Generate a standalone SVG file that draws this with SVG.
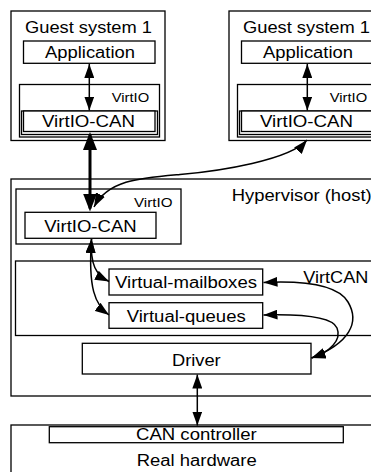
<svg xmlns="http://www.w3.org/2000/svg" width="371" height="472" viewBox="0 0 371 472">
  <style>
    .box { fill: #fff; stroke: #000; stroke-width: 1.3; }
    .lbl { font-family: "Liberation Sans", Arial, sans-serif; font-size: 16px; fill: #000; }
    .sm { font-family: "Liberation Sans", Arial, sans-serif; font-size: 13px; fill: #000; }
    .link { fill: none; stroke: #000; stroke-width: 1.5; marker-start: url(#ah); marker-end: url(#ah); }
    .bus { fill: none; stroke: #000; stroke-width: 3; marker-start: url(#ahb); marker-end: url(#ahb); }
  </style>
  <defs>
    <marker id="ah" viewBox="0 0 14 10" refX="14" refY="5" markerWidth="14" markerHeight="10" markerUnits="userSpaceOnUse" orient="auto-start-reverse">
      <path d="M0,0 L14,5 L0,10 z" fill="#000"/>
    </marker>
    <marker id="ahb" viewBox="0 0 18 14" refX="15" refY="7" markerWidth="18" markerHeight="14" markerUnits="userSpaceOnUse" orient="auto-start-reverse">
      <path d="M0,0 L18,7 L0,14 z" fill="#000"/>
    </marker>
    <!-- guest system: outer frame, application, VirtIO front end -->
    <g id="guest-tpl">
      <rect class="box" x="11" y="11" width="154" height="129.5"/>
      <text class="lbl" x="25" y="33.3" textLength="127" lengthAdjust="spacingAndGlyphs">Guest system 1</text>
      <rect class="box" x="23.5" y="41" width="131.5" height="22.3"/>
      <text class="lbl" x="45" y="58.3" textLength="90" lengthAdjust="spacingAndGlyphs">Application</text>
      <rect class="box" x="19.5" y="84.5" width="140" height="52.5"/>
      <text class="sm" x="111.7" y="101.7" textLength="37.5" lengthAdjust="spacingAndGlyphs">VirtIO</text>
      <rect class="box" x="21.5" y="111" width="136" height="23.5"/>
      <rect class="box" x="23.5" y="111" width="131.5" height="20.5"/>
      <text class="lbl" x="42" y="127" textLength="93" lengthAdjust="spacingAndGlyphs">VirtIO-CAN</text>
    </g>
  </defs>
  <rect width="371" height="472" fill="#fff"/>

  <use id="guest-1" href="#guest-tpl"/>
  <use id="guest-2" href="#guest-tpl" transform="translate(218,0)"/>

  <g id="hypervisor">
    <rect class="box" x="11" y="179" width="375" height="217"/>
    <text class="lbl" x="231.7" y="200.7" textLength="140" lengthAdjust="spacingAndGlyphs">Hypervisor (host)</text>
  </g>

  <g id="host-virtio">
    <rect class="box" x="16" y="189" width="165" height="55"/>
    <text class="sm" x="134" y="206.7" textLength="38.5" lengthAdjust="spacingAndGlyphs">VirtIO</text>
  </g>
  <g id="host-virtio-can">
    <rect class="box" x="25" y="212.3" width="131" height="26"/>
    <text class="lbl" x="44.3" y="232.3" textLength="92.4" lengthAdjust="spacingAndGlyphs">VirtIO-CAN</text>
  </g>

  <g id="virtcan">
    <rect class="box" x="15.5" y="261" width="370" height="74.5"/>
    <text class="lbl" x="303.3" y="282.5" textLength="65" lengthAdjust="spacingAndGlyphs">VirtCAN</text>
  </g>
  <g id="mailboxes">
    <rect class="box" x="109" y="269" width="153.7" height="26"/>
    <text class="lbl" x="115" y="288.3" textLength="142" lengthAdjust="spacingAndGlyphs">Virtual-mailboxes</text>
  </g>
  <g id="queues">
    <rect class="box" x="109" y="302.7" width="153.7" height="25.6"/>
    <text class="lbl" x="126.7" y="321.7" textLength="119" lengthAdjust="spacingAndGlyphs">Virtual-queues</text>
  </g>
  <g id="driver">
    <rect class="box" x="82.3" y="343.3" width="228.7" height="30.7"/>
    <text class="lbl" x="172" y="365.7" textLength="48.7" lengthAdjust="spacingAndGlyphs">Driver</text>
  </g>

  <g id="hardware">
    <rect class="box" x="11" y="425" width="375" height="60"/>
    <text class="lbl" x="136.7" y="465.7" textLength="120" lengthAdjust="spacingAndGlyphs">Real hardware</text>
  </g>
  <g id="can-controller">
    <rect class="box" x="49.3" y="426.7" width="294" height="16"/>
    <text class="lbl" x="136" y="440" textLength="120.7" lengthAdjust="spacingAndGlyphs">CAN controller</text>
  </g>

  <g id="connectors">
    <path class="link" d="M89.3,64 L89.3,110.5"/>
    <path class="link" d="M307.3,64 L307.3,110.5"/>
    <path class="bus" d="M90,135 L90,208.5"/>
    <path class="link" d="M94,207 C108,180 140,178 180,174.5 S290,160 307,140"/>
    <path class="link" d="M91.5,239 C90,265 96,275 109,281.5"/>
    <path class="link" d="M91.5,239 C88,288 95,305 109,315"/>
    <path class="link" d="M311.5,358 C350,343 360,322 348,302 S295,281 263.5,282.5"/>
    <path class="link" d="M311.5,358 C330,352 342,340 337,328 S300,314 263.5,315"/>
    <path class="link" d="M197.3,374.5 L197.3,425.5"/>
  </g>
</svg>
